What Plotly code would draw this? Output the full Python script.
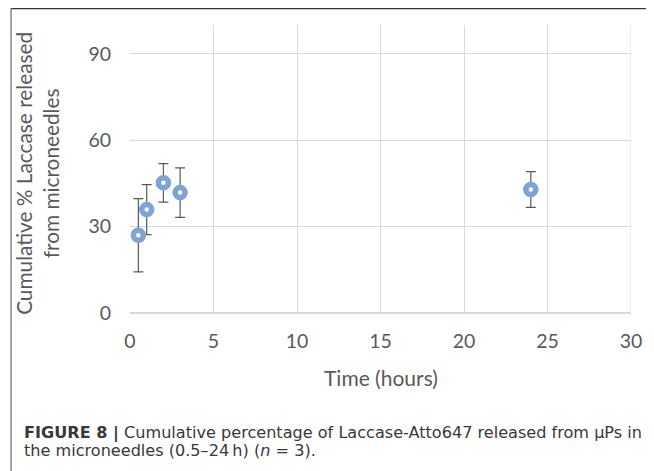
import plotly.graph_objects as go

# Data
time_hours = [0.5, 1, 2, 3, 24]
cumulative_release = [27.0, 35.9, 45.2, 41.8, 42.9]
release_error = [12.7, 8.7, 6.7, 8.6, 6.2]
x_ticks = [0, 5, 10, 15, 20, 25, 30]
y_ticks = [0, 30, 60, 90]

# The page body has an 8px margin; work in page pixels and subtract it.
OFF = 8
PAGE_W, PAGE_H = 654, 471
W, H = PAGE_W - OFF, PAGE_H - OFF
PLOT_L, PLOT_R, PLOT_T, PLOT_B = 130, 641, 25, 313  # page pixels
L = PLOT_L - OFF
R = PAGE_W - PLOT_R
T = PLOT_T - OFF
B = PAGE_H - PLOT_B
pw, ph = PLOT_R - PLOT_L, PLOT_B - PLOT_T


def px_x(p):
    return (p - PLOT_L) / pw


def px_y(p):
    return (PLOT_B - p) / ph


FONT = "Lato"
GREY = "#595959"

fig = go.Figure()
fig.add_trace(go.Scatter(
    x=time_hours, y=cumulative_release, mode="markers",
    marker=dict(size=10, color="white", line=dict(color="#7da4d6", width=5.5)),
    error_y=dict(type="data", array=release_error, visible=True,
                 color=GREY, thickness=1.2, width=5),
    showlegend=False,
))

fig.update_layout(
    width=W, height=H,
    margin=dict(l=L, r=R, t=T, b=B, pad=0),
    paper_bgcolor="white", plot_bgcolor="white",
    font=dict(family=FONT, color=GREY, size=19),
    xaxis=dict(range=[0, 30], tickvals=x_ticks, showgrid=True, gridcolor="#d9d9d9",
               gridwidth=1, zeroline=False, showline=False, ticks="",
               ticklabelstandoff=14, tickfont=dict(size=19.5, color=GREY, family=FONT)),
    yaxis=dict(range=[0, 100], tickvals=y_ticks, showgrid=True, gridcolor="#d9d9d9",
               gridwidth=1, zeroline=True, zerolinecolor="#d9d9d9", zerolinewidth=1.5,
               showline=False, ticks="", ticklabelstandoff=18,
               tickfont=dict(size=19.5, color=GREY, family=FONT)),
)

# frame lines (top and left)
fig.add_shape(type="line", xref="paper", yref="paper",
              x0=px_x(8.5), x1=px_x(PAGE_W + 5), y0=px_y(8.7), y1=px_y(8.7),
              line=dict(color="#333333", width=1.3))
fig.add_shape(type="line", xref="paper", yref="paper",
              x0=px_x(8.7), x1=px_x(8.7), y0=px_y(8.5), y1=px_y(PAGE_H + 5),
              line=dict(color="#777777", width=1.3))

# right edge gridline
fig.add_shape(type="line", xref="x", yref="paper", x0=30, x1=30, y0=0, y1=1,
              line=dict(color="#d9d9d9", width=1))

# axis titles
fig.add_annotation(text="Time (hours)", xref="paper", yref="paper",
                   x=px_x(386), y=px_y(377), xanchor="center", yanchor="middle",
                   showarrow=False, font=dict(family=FONT, size=21, color=GREY))
fig.add_annotation(text="Cumulative % Laccase released<br>from microneedles",
                   xref="paper", yref="paper", x=px_x(35), y=px_y(173),
                   xanchor="center", yanchor="middle", textangle=-90,
                   showarrow=False, font=dict(family=FONT, size=20.8, color=GREY))

# caption
CAP = "DejaVu Sans"
fig.add_annotation(text="<b>FIGURE 8 |</b> Cumulative percentage of Laccase-Atto647 released from \u03bcPs in",
                   xref="paper", yref="paper", x=px_x(20), y=px_y(433),
                   xanchor="left", yanchor="middle", showarrow=False,
                   font=dict(family=CAP, size=16.1, color="#383838"))
fig.add_annotation(text="the microneedles (0.5\u201324\u2009h) (<i>n</i> = 3).",
                   xref="paper", yref="paper", x=px_x(20), y=px_y(450),
                   xanchor="left", yanchor="middle", showarrow=False,
                   font=dict(family=CAP, size=16.1, color="#383838"))

fig.write_html("out.html")
